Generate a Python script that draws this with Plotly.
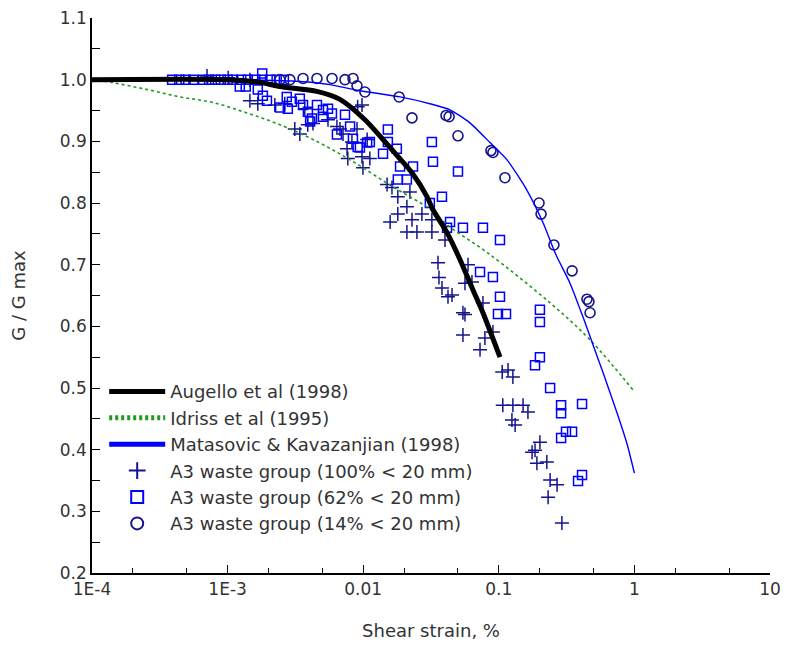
import plotly.graph_objects as go

# ---- Reference curves: shear strain (%) vs G/Gmax ----
augello_strain = [1e-4, 1e-3, 0.0017, 0.00243, 0.00455, 0.00674, 0.0103, 0.0140, 0.0181,
                  0.0229, 0.0296, 0.0327, 0.0415, 0.0518, 0.0645, 0.0764, 0.102]
augello_ratio = [1.0, 1.0, 0.996, 0.989, 0.981, 0.968, 0.935, 0.903, 0.875,
                 0.849, 0.810, 0.789, 0.752, 0.708, 0.659, 0.622, 0.550]

idriss_strain = [1e-4, 1.43e-4, 2.55e-4, 4.46e-4, 7.8e-4, 1.39e-3, 2.43e-3, 4.26e-3, 8.0e-3,
                 0.0166, 0.0311, 0.0437, 0.0818, 0.239, 0.471, 1.0]
idriss_ratio = [1.0, 0.995, 0.984, 0.972, 0.963, 0.946, 0.927, 0.903, 0.87,
                0.826, 0.79, 0.761, 0.72, 0.638, 0.578, 0.494]

matasovic_strain = [1e-4, 1e-3, 0.0034, 0.0057, 0.0095, 0.0187, 0.031, 0.0437, 0.0612, 0.0861,
                    0.115, 0.161, 0.212, 0.264, 0.335, 0.418, 0.495, 0.587, 0.744, 0.881, 1.0]
matasovic_ratio = [1.0, 1.0, 0.997, 0.992, 0.982, 0.972, 0.961, 0.951, 0.930, 0.898,
                   0.870, 0.821, 0.768, 0.716, 0.670, 0.615, 0.570, 0.525, 0.460, 0.410, 0.362]

# ---- A3 waste group, 100% < 20 mm ----
a3_100_strain = [7.05e-4, 1.01e-3, 1.46e-3, 1.46e-3, 1.67e-3, 2.23e-3, 2.64e-3, 3.13e-3, 3.41e-3,
                 3.71e-3, 3.9e-3, 4.26e-3, 5.5e-3, 6.4e-3, 6.74e-3, 7.1e-3, 9.1e-3, 9.8e-3,
                 9.0e-3, 0.0107, 8.26e-3, 7.6e-3, 7.7e-3, 9.8e-3, 0.0112, 9.96e-3, 0.015,
                 0.0163, 0.018, 0.021, 0.0221, 0.0158, 0.018, 0.0229, 0.021, 0.0249, 0.0321,
                 0.0271, 0.0321, 0.0401, 0.0356, 0.0362, 0.0381, 0.0422, 0.0452, 0.0593,
                 0.0563, 0.0634, 0.0544, 0.0563, 0.0764, 0.0544, 0.079, 0.0905, 0.0727,
                 0.106, 0.117, 0.127, 0.107, 0.127, 0.151, 0.164, 0.125, 0.132, 0.201,
                 0.185, 0.176, 0.191, 0.226, 0.239, 0.269, 0.231, 0.292]
a3_100_ratio = [1.006, 1.003, 1.0, 0.966, 0.961, 0.959, 0.961, 0.920, 0.912,
                0.953, 0.927, 0.929, 0.935, 0.924, 0.920, 0.912, 0.956, 0.959,
                0.920, 0.903, 0.899, 0.888, 0.872, 0.875, 0.872, 0.857, 0.830,
                0.825, 0.810, 0.794, 0.818, 0.769, 0.782, 0.773, 0.753, 0.753, 0.753,
                0.782, 0.773, 0.740, 0.703, 0.679, 0.662, 0.648, 0.651, 0.700,
                0.670, 0.672, 0.622, 0.619, 0.638, 0.586, 0.581, 0.591, 0.562,
                0.526, 0.529, 0.518, 0.472, 0.472, 0.472, 0.461, 0.448, 0.440, 0.412,
                0.399, 0.396, 0.378, 0.380, 0.351, 0.343, 0.323, 0.281]

# ---- A3 waste group, 62% < 20 mm ----
a3_62_strain = [3.9e-4, 4.4e-4, 4.9e-4, 5.6e-4, 6.6e-4, 7.3e-4, 8.1e-4, 8.9e-4, 1.0e-3, 1.1e-3,
                1.26e-3, 1.41e-3, 1.6e-3, 1.8e-3, 2.06e-3, 2.3e-3, 2.6e-3,
                1.23e-3, 1.36e-3, 1.67e-3, 1.82e-3, 1.95e-3, 1.8e-3,
                2.73e-3, 2.98e-3, 2.78e-3, 2.44e-3, 3.41e-3, 3.6e-3, 3.91e-3, 4.19e-3, 4.06e-3,
                4.56e-3, 5.05e-3, 5.05e-3, 5.5e-3, 5.88e-3, 7.34e-3, 6.4e-3, 8.4e-3, 8.0e-3,
                9.1e-3, 9.46e-3, 0.0107, 0.0112, 0.0152, 0.0152, 0.014, 0.0177, 0.0187,
                0.0233, 0.018, 0.021, 0.0321, 0.0327, 0.050, 0.0381, 0.031, 0.0437, 0.0415,
                0.0544, 0.0764, 0.102, 0.0727, 0.0905, 0.102, 0.0986, 0.113, 0.201, 0.201,
                0.201, 0.185, 0.239, 0.288, 0.288, 0.411, 0.313, 0.347, 0.288, 0.411, 0.384]
a3_62_ratio = [1.0, 1.0, 1.0, 1.0, 1.0, 1.0, 1.0, 1.0, 1.0, 1.0,
               1.0, 1.0, 1.0, 1.0, 1.0, 1.0, 1.0,
               0.989, 0.989, 0.984, 0.974, 0.966, 1.01,
               0.972, 0.964, 0.953, 0.955, 0.969, 0.959, 0.948, 0.937, 0.932,
               0.959, 0.951, 0.940, 0.953, 0.945, 0.943, 0.911, 0.904, 0.924,
               0.891, 0.890, 0.898, 0.899, 0.919, 0.899, 0.880, 0.888, 0.859,
               0.859, 0.838, 0.838, 0.899, 0.867, 0.851, 0.810, 0.80, 0.769, 0.760,
               0.760, 0.760, 0.74, 0.688, 0.680, 0.648, 0.620, 0.620, 0.627, 0.607,
               0.550, 0.537, 0.50, 0.472, 0.459, 0.474, 0.429, 0.429, 0.419, 0.359, 0.349]

# ---- A3 waste group, 14% < 20 mm ----
a3_14_strain = [0.00243, 0.00288, 0.0036, 0.00456, 0.00589, 0.00734, 0.00841, 0.0090, 0.0103,
                0.0184, 0.0229, 0.0408, 0.0430, 0.050, 0.0875, 0.0905, 0.111, 0.198, 0.205,
                0.255, 0.347, 0.447, 0.462, 0.471]
a3_14_ratio = [1.0, 1.0, 1.002, 1.002, 1.002, 1.0, 1.002, 0.99, 0.98,
               0.972, 0.938, 0.942, 0.94, 0.909, 0.885, 0.882, 0.841, 0.80, 0.782,
               0.732, 0.69, 0.644, 0.64, 0.622]

x_tickvals = [1e-4, 1e-3, 0.01, 0.1, 1, 10]
x_ticktext = ["1E-4", "1E-3", "0.01", "0.1", "1", "10"]

NAVY = "#14148c"
BLUE = "#0000ff"
GREEN = "#1f9a1f"
TEXT = "#333333"
FONT = "DejaVu Sans, Verdana, sans-serif"

fig = go.Figure()

fig.add_trace(go.Scatter(
    x=a3_100_strain, y=a3_100_ratio, mode="markers",
    name="A3 waste group (100% < 20 mm)", legendrank=4, legendgroup="g4",
    marker=dict(symbol="cross-thin-open", size=10, color=NAVY, line=dict(color=NAVY, width=1.5)),
    cliponaxis=False))
fig.add_trace(go.Scatter(
    x=a3_62_strain, y=a3_62_ratio, mode="markers",
    name="A3 waste group (62% < 20 mm)", legendrank=5, legendgroup="g5",
    marker=dict(symbol="square-open", size=9, color=BLUE, line=dict(color=BLUE, width=1.5)),
    cliponaxis=False))
fig.add_trace(go.Scatter(
    x=a3_14_strain, y=a3_14_ratio, mode="markers",
    name="A3 waste group (14% < 20 mm)", legendrank=6, legendgroup="g6",
    marker=dict(symbol="circle-open", size=10, color=NAVY, line=dict(color=NAVY, width=1.6)),
    cliponaxis=False))

fig.add_trace(go.Scatter(
    x=idriss_strain, y=idriss_ratio, mode="lines", line_shape="spline",
    name="Idriss et al (1995)", legendrank=2, legendgroup="g2",
    line=dict(color=GREEN, width=1.6, dash="3px,3px")))
fig.add_trace(go.Scatter(
    x=matasovic_strain, y=matasovic_ratio, mode="lines",
    line=dict(color=BLUE, width=1.4, shape="spline", smoothing=0.6),
    name="Matasovic & Kavazanjian (1998)", legendrank=3, legendgroup="g3"))
fig.add_trace(go.Scatter(
    x=augello_strain, y=augello_ratio, mode="lines",
    name="Augello et al (1998)", legendrank=1, legendgroup="g1",
    line=dict(color="black", width=5, shape="spline", smoothing=0.7)))

fig.update_layout(
    width=786, height=650,
    margin=dict(l=92, r=16, t=18, b=77),
    paper_bgcolor="white", plot_bgcolor="white",
    font=dict(family=FONT, size=17, color=TEXT),
    showlegend=True,
    legend=dict(
        x=0.018, y=0.36, xanchor="left", yanchor="top",
        bgcolor="rgba(0,0,0,0)", borderwidth=0,
        font=dict(family=FONT, size=18, color=TEXT),
        itemwidth=56, itemsizing="constant",
        traceorder="grouped", tracegroupgap=0,
    ),
)

fig.update_xaxes(
    type="log", range=[-4, 1], automargin=False,
    tickvals=x_tickvals, ticktext=x_ticktext,
    ticks="inside", ticklen=8, tickwidth=1, tickcolor="black",
    minor=dict(ticks="inside", ticklen=5, tickwidth=1, tickcolor="black", showgrid=False),
    showline=True, linecolor="black", linewidth=1.5,
    showgrid=False, zeroline=False,
    tickfont=dict(family=FONT, size=17, color=TEXT),
    title=dict(text="Shear strain, %", font=dict(family=FONT, size=18, color=TEXT), standoff=26),
)

fig.update_yaxes(
    range=[0.2, 1.1], dtick=0.1, tick0=0.2, tickformat=".1f", automargin=False,
    ticks="inside", ticklen=8, tickwidth=1, tickcolor="black",
    minor=dict(dtick=0.05, ticks="inside", ticklen=8, tickwidth=1, tickcolor="black", showgrid=False),
    showline=True, linecolor="black", linewidth=1.5,
    showgrid=False, zeroline=False,
    tickfont=dict(family=FONT, size=17, color=TEXT),
    title=dict(text="G / G max", font=dict(family=FONT, size=18, color=TEXT), standoff=30),
)

fig.write_html("out.html")
